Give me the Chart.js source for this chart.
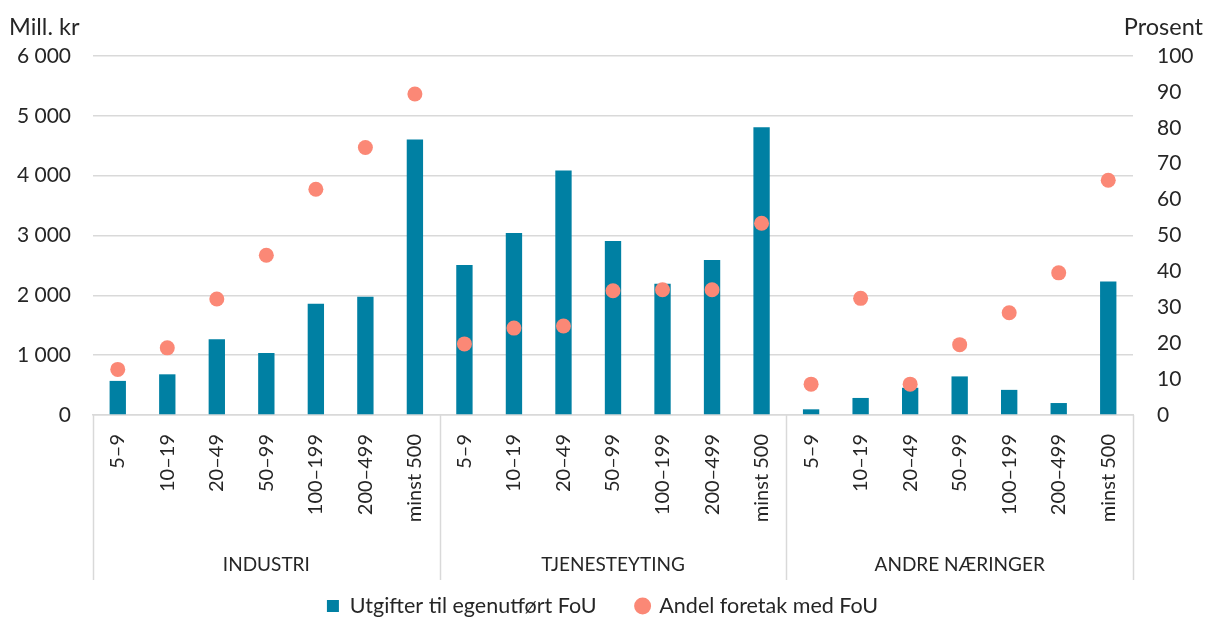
<!DOCTYPE html>
<html><head><meta charset="utf-8">
<script src="https://cdn.jsdelivr.net/npm/chart.js@4.4.1/dist/chart.umd.min.js"></script>
<style>html,body{margin:0;padding:0;background:#fff}#wrap{width:1205px;height:617px}</style>
</head><body><div id="wrap"><canvas id="c" width="1205" height="617"></canvas></div>
<script>
const groups = ['INDUSTRI', 'TJENESTEYTING', 'ANDRE NÆRINGER'];
const sizeClasses = ['5–9', '10–19', '20–49', '50–99', '100–199', '200–499', 'minst 500'];
const industriUtgifter = [570, 680, 1265, 1035, 1860, 1975, 4605];
const tjenesteUtgifter = [2505, 3040, 4085, 2910, 2195, 2590, 4810];
const andreUtgifter = [95, 285, 455, 645, 420, 200, 2230];
const industriAndel = [12.7, 18.7, 32.3, 44.5, 62.9, 74.5, 89.4];
const tjenesteAndel = [19.8, 24.2, 24.8, 34.6, 34.9, 34.9, 53.4];
const andreAndel = [8.6, 32.5, 8.6, 19.6, 28.5, 39.6, 65.4];
const seriesNames = ['Utgifter til egenutført FoU', 'Andel foretak med FoU'];
const leftUnit = 'Mill. kr';
const rightUnit = 'Prosent';

const labels = groups.flatMap(() => sizeClasses);
const utgifter = [...industriUtgifter, ...tjenesteUtgifter, ...andreUtgifter];
const andel = [...industriAndel, ...tjenesteAndel, ...andreAndel];

const FONT = 'Lato';
const TXT = '#262626';
const GRID = '#d9d9d9';
const LEG_FONT = 21.5;
const LEG_PAD = 8;
const LEG_GAP = 40;
const X_FIT = 162.5;
const SEP_LEN = 165;

const groupPlugin = {
  id: 'groupPlugin',
  afterLayout(chart) {
    const lg = chart.legend;
    if (!lg || !lg.lineWidths) return;
    lg.options.labels.padding = LEG_GAP;
    lg.lineWidths[0] += 2 * (LEG_GAP - LEG_PAD);
    const center = chart.chartArea.bottom + 191;
    lg.top = center - LEG_FONT / 2 - LEG_GAP;
    lg.bottom = chart.height;
    lg.height = lg.bottom - lg.top;
  },
  afterDraw(chart) {
    const ctx = chart.ctx, x = chart.scales.x, ca = chart.chartArea;
    const n = sizeClasses.length;
    const step = x.width / labels.length;
    ctx.save();
    ctx.strokeStyle = GRID; ctx.lineWidth = 1.5;
    for (let g = 0; g <= groups.length; g++) {
      const px = Math.round(x.getPixelForValue(g * n) - step / 2) + 0.5;
      ctx.beginPath(); ctx.moveTo(px, ca.bottom); ctx.lineTo(px, ca.bottom + SEP_LEN); ctx.stroke();
    }
    ctx.fillStyle = TXT;
    ctx.font = '19px ' + FONT;
    ctx.textAlign = 'center'; ctx.textBaseline = 'middle';
    groups.forEach((gname, g) => {
      const cx = (x.getPixelForValue(g * n) + x.getPixelForValue(g * n + n - 1)) / 2;
      ctx.fillText(gname, cx, ca.bottom + 150);
    });
    ctx.font = '23.5px ' + FONT;
    ctx.textAlign = 'left';
    ctx.fillText(leftUnit, 9, ca.top - 29);
    ctx.textAlign = 'right';
    ctx.fillText(rightUnit, chart.width - 2, ca.top - 29);
    ctx.restore();
  }
};

new Chart(document.getElementById('c'), {
  data: {
    labels,
    datasets: [
      { type: 'bar', label: seriesNames[0], data: utgifter, yAxisID: 'y',
        backgroundColor: '#0080a3', borderWidth: 0,
        barPercentage: 0.33, categoryPercentage: 1, pointStyle: 'rect', order: 2 },
      { type: 'line', label: seriesNames[1], data: andel, yAxisID: 'y1', showLine: false,
        backgroundColor: '#fb8876', borderColor: '#fb8876', pointRadius: 7.5,
        pointHoverRadius: 7.5, pointBorderWidth: 0, pointStyle: 'circle', order: 1 }
    ]
  },
  options: {
    responsive: false, animation: false,
    layout: { padding: { top: 56, left: 0, right: 0, bottom: 0 } },
    plugins: {
      tooltip: { enabled: false },
      legend: {
        position: 'bottom',
        labels: { usePointStyle: true, boxWidth: 12, boxHeight: 12, padding: LEG_PAD,
          sort: (a, b) => a.datasetIndex - b.datasetIndex,
          color: TXT, font: { family: FONT, size: LEG_FONT } }
      }
    },
    scales: {
      x: {
        grid: { display: false, drawTicks: false },
        border: { display: true, color: GRID, width: 1.5 },
        ticks: { autoSkip: false, minRotation: 90, maxRotation: 90, padding: 19,
          color: TXT, font: { family: FONT, size: 20 } },
        afterFit(s) { s.height = X_FIT; }
      },
      y: {
        position: 'left', min: 0, max: 6000,
        grid: { color: GRID, lineWidth: 1.5, drawTicks: false },
        border: { display: false },
        ticks: { stepSize: 1000, padding: 22, color: TXT, font: { family: FONT, size: 21 },
          callback: v => v >= 1000 ? Math.floor(v / 1000) + ' ' + String(v % 1000).padStart(3, '0') : String(v) },
        afterFit(s) { s.width = 93; }
      },
      y1: {
        position: 'right', min: 0, max: 100,
        grid: { display: false, drawTicks: false },
        border: { display: false },
        ticks: { stepSize: 10, padding: 24, color: TXT, font: { family: FONT, size: 21 } },
        afterFit(s) { s.width = 72; }
      }
    }
  },
  plugins: [groupPlugin]
});
</script></body></html>
